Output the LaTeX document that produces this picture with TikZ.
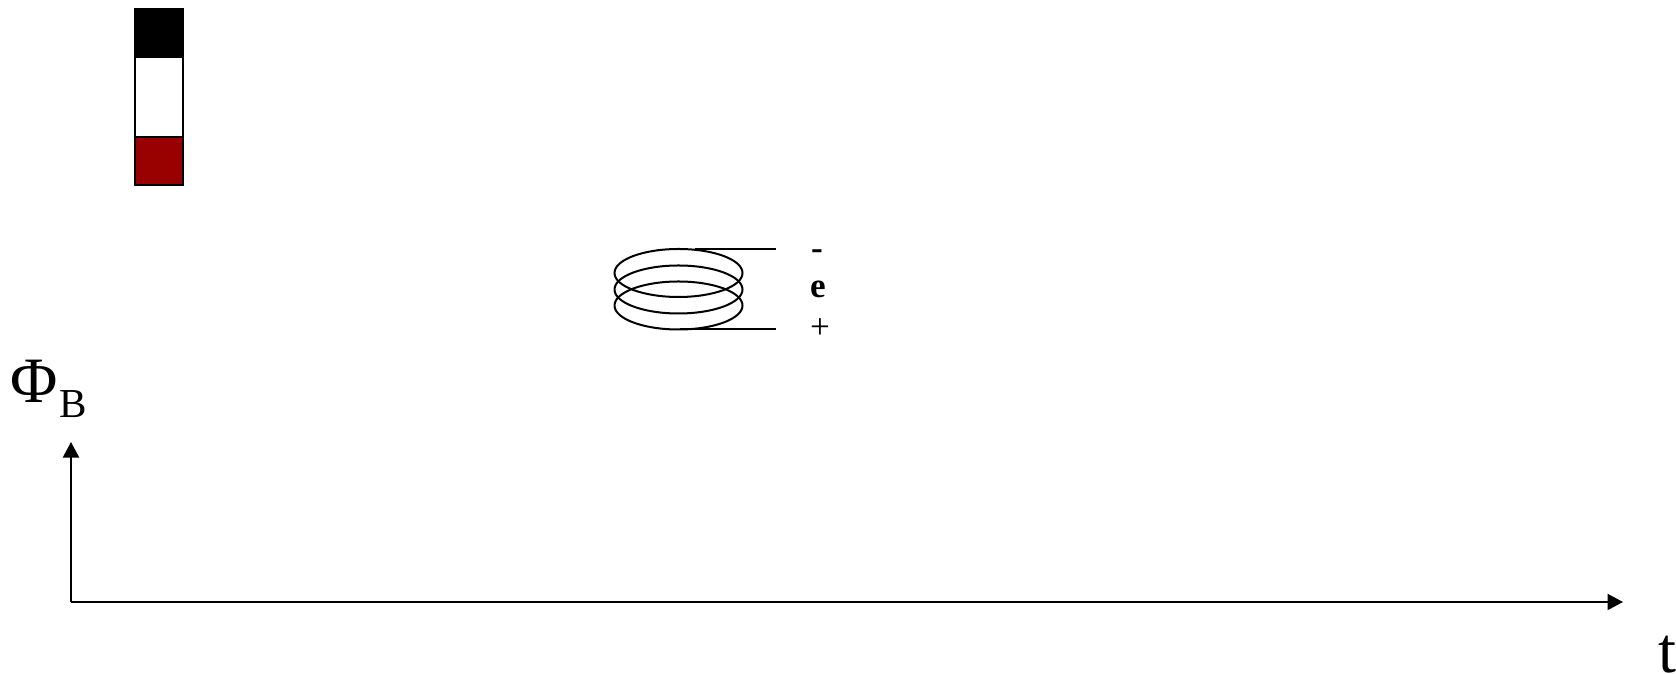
\documentclass[tikz,border=0pt]{standalone}
\usepackage{fontspec}
\setmainfont{Liberation Serif}
\usetikzlibrary{arrows.meta}
\definecolor{magnetred}{RGB}{153,0,0}
\tikzset{
  x=0.01cm,y=-0.01cm,
  wire/.style={line width=0.02cm,black},
  seg/.style={draw=black,line width=0.02cm,minimum width=0.48cm,inner sep=0,outer sep=0,anchor=north},
  axis/.style={line width=0.02cm,black,-{Triangle[length=0.155cm,width=0.16cm]}},
  lab/.style={inner sep=0,outer sep=0,black,anchor=base west},
  small/.style={lab,font=\fontsize{10pt}{12pt}\selectfont},
  big/.style={lab,font=\fontsize{18.4pt}{20pt}\selectfont}
}
\begin{document}
\begin{tikzpicture}
\useasboundingbox (0,0) rectangle (1676,674);
% magnet
\node[seg,fill=black,minimum height=0.49cm] (mblack) at (159,9) {};
\node[seg,fill=white,minimum height=0.80cm] (mwhite) at (159,57) {};
\node[seg,fill=magnetred,minimum height=0.48cm] (mred) at (159,137) {};
% coil
\coordinate (topend) at (776,249.5);
\coordinate (botend) at (776,329.5);
\coordinate (topstart) at (695,249.5);
\coordinate (botstart) at (680,329.5);
\draw[wire] (678.5,273) ellipse [x radius=64, y radius=24];
\draw[wire] (678.5,289.5) ellipse [x radius=64, y radius=24];
\draw[wire] (678.5,305.5) ellipse [x radius=64, y radius=24];
\draw[wire] (topstart) -- (topend);
\draw[wire] (botstart) -- (botend);
% labels
\node[small,font=\fontsize{10pt}{12pt}\selectfont\bfseries] (minus) at (811,260) {-};
\node[small,font=\fontsize{10pt}{12pt}\selectfont\bfseries] (emf) at (810,298) {e};
\node[small] (plus) at (810,339) {+};
% axes
\coordinate (origin) at (71,602);
\coordinate (ytip) at (71,442);
\coordinate (xtip) at (1623,602);
\draw[axis] (origin) -- (ytip);
\draw[axis] (origin) -- (xtip);
\node[big] (phi) at (11,403) {\symbol{"03A6}};
\node[lab,font=\fontsize{11.7pt}{13pt}\selectfont] (phisub) at (59,418) {B};
\node[big] (t) at (1658,673) {t};
\end{tikzpicture}
\end{document}
